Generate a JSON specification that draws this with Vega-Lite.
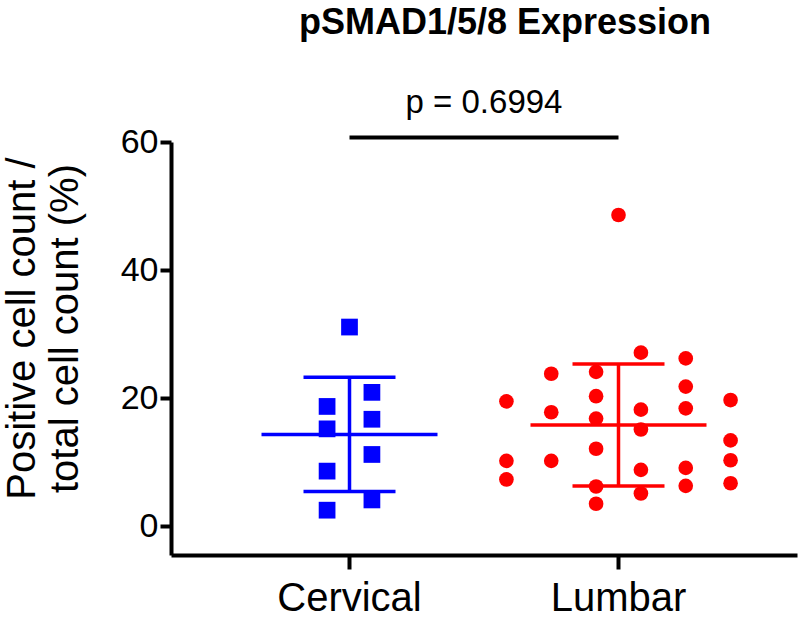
{
  "$schema": "https://vega.github.io/schema/vega-lite/v6.json",
  "width": 626,
  "height": 413,
  "autosize": {"type": "none"},
  "padding": {"left": 171, "top": 142, "right": 3, "bottom": 62},
  "background": "white",
  "title": {
    "text": "pSMAD1/5/8 Expression",
    "fontSize": 36,
    "fontWeight": "bold",
    "font": "Liberation Sans",
    "color": "black",
    "anchor": "middle",
    "dx": 21,
    "offset": 45
  },
  "config": {
    "font": "Liberation Sans",
    "view": {"stroke": null},
    "axis": {
      "grid": false,
      "domainColor": "black",
      "domainWidth": 4,
      "tickColor": "black",
      "tickWidth": 4,
      "labelColor": "black",
      "titleColor": "black",
      "labelFont": "Liberation Sans",
      "titleFont": "Liberation Sans",
      "titleFontWeight": "normal"
    }
  },
  "datasets": {
    "cells": [
      {"group": "Cervical", "col": 0, "value": 31.1},
      {"group": "Cervical", "col": 1, "value": 20.9},
      {"group": "Cervical", "col": -1, "value": 18.7},
      {"group": "Cervical", "col": 1, "value": 16.7},
      {"group": "Cervical", "col": -1, "value": 15.2},
      {"group": "Cervical", "col": 1, "value": 11.2},
      {"group": "Cervical", "col": -1, "value": 8.6},
      {"group": "Cervical", "col": 1, "value": 4.1},
      {"group": "Cervical", "col": -1, "value": 2.5},
      {"group": "Lumbar", "col": 0, "value": 48.6},
      {"group": "Lumbar", "col": 1, "value": 27.1},
      {"group": "Lumbar", "col": 3, "value": 26.2},
      {"group": "Lumbar", "col": -3, "value": 23.8},
      {"group": "Lumbar", "col": -1, "value": 24.1},
      {"group": "Lumbar", "col": 3, "value": 21.8},
      {"group": "Lumbar", "col": -1, "value": 20.3},
      {"group": "Lumbar", "col": -5, "value": 19.5},
      {"group": "Lumbar", "col": 5, "value": 19.7},
      {"group": "Lumbar", "col": -3, "value": 17.8},
      {"group": "Lumbar", "col": 1, "value": 18.2},
      {"group": "Lumbar", "col": 3, "value": 18.4},
      {"group": "Lumbar", "col": -1, "value": 16.8},
      {"group": "Lumbar", "col": 1, "value": 15.1},
      {"group": "Lumbar", "col": 5, "value": 13.4},
      {"group": "Lumbar", "col": -1, "value": 12.1},
      {"group": "Lumbar", "col": -5, "value": 10.2},
      {"group": "Lumbar", "col": -3, "value": 10.2},
      {"group": "Lumbar", "col": 5, "value": 10.3},
      {"group": "Lumbar", "col": 1, "value": 8.8},
      {"group": "Lumbar", "col": 3, "value": 9.1},
      {"group": "Lumbar", "col": -5, "value": 7.3},
      {"group": "Lumbar", "col": 5, "value": 6.7},
      {"group": "Lumbar", "col": -1, "value": 6.2},
      {"group": "Lumbar", "col": 3, "value": 6.3},
      {"group": "Lumbar", "col": 1, "value": 5.1},
      {"group": "Lumbar", "col": -1, "value": 3.5}
    ],
    "stats": [
      {"from": "Cervical", "to": "Lumbar", "y": 60.7, "label": "p = 0.6994", "texty": 64.5}
    ]
  },
  "encoding": {
    "x": {
      "field": "group",
      "type": "nominal",
      "scale": {"domain": ["Cervical", "Lumbar"], "paddingInner": 0, "paddingOuter": 0.1636},
      "axis": {
        "title": null,
        "labelAngle": 0,
        "labelFontSize": 40,
        "tickSize": 14,
        "labelPadding": 9
      }
    },
    "y": {
      "type": "quantitative",
      "scale": {"domain": [-4.5, 60], "nice": false, "zero": false},
      "axis": {
        "values": [0, 20, 40, 60],
        "labelFontSize": 34,
        "tickSize": 11,
        "labelPadding": 2,
        "title": ["Positive cell count /", "total cell count (%)"],
        "titleFontSize": 40,
        "titleLineHeight": 43,
        "titlePadding": 35,
        "titleY": 186
      }
    }
  },
  "layer": [
    {
      "data": {"name": "cells"},
      "mark": {"type": "point", "filled": true, "opacity": 1, "strokeWidth": 0},
      "encoding": {
        "y": {"field": "value", "type": "quantitative"},
        "xOffset": {
          "field": "col",
          "type": "ordinal",
          "scale": {"domain": [-5, -4, -3, -2, -1, 0, 1, 2, 3, 4, 5], "paddingOuter": 2.9, "paddingInner": 0}
        },
        "color": {"field": "group", "type": "nominal", "scale": {"domain": ["Cervical", "Lumbar"], "range": ["#0000FF", "#FF0000"]}, "legend": null},
        "shape": {"field": "group", "type": "nominal", "scale": {"domain": ["Cervical", "Lumbar"], "range": ["square", "circle"]}, "legend": null},
        "size": {"field": "group", "type": "nominal", "scale": {"domain": ["Cervical", "Lumbar"], "range": [280, 215]}, "legend": null}
      }
    },
    {
      "data": {"name": "cells"},
      "mark": {"type": "errorbar", "extent": "stdev", "rule": {"strokeWidth": 3.5, "opacity": 1}, "ticks": {"size": 92, "thickness": 3.5, "opacity": 1}},
      "encoding": {
        "y": {"field": "value", "type": "quantitative"},
        "color": {"field": "group", "type": "nominal", "scale": {"domain": ["Cervical", "Lumbar"], "range": ["#0000FF", "#FF0000"]}, "legend": null}
      }
    },
    {
      "data": {"name": "cells"},
      "mark": {"type": "tick", "size": 176, "thickness": 3.5, "opacity": 1},
      "encoding": {
        "y": {"field": "value", "type": "quantitative", "aggregate": "mean"},
        "color": {"field": "group", "type": "nominal", "scale": {"domain": ["Cervical", "Lumbar"], "range": ["#0000FF", "#FF0000"]}, "legend": null}
      }
    },
    {
      "data": {"name": "stats"},
      "mark": {"type": "rule", "color": "black", "strokeWidth": 4},
      "encoding": {
        "x": {"field": "from", "type": "nominal"},
        "x2": {"field": "to"},
        "y": {"field": "y", "type": "quantitative"}
      }
    },
    {
      "data": {"name": "stats"},
      "mark": {"type": "text", "fontSize": 33, "color": "black", "align": "center", "baseline": "alphabetic"},
      "encoding": {
        "x": {"field": "from", "type": "nominal", "bandPosition": 1},
        "y": {"field": "texty", "type": "quantitative"},
        "text": {"field": "label"}
      }
    }
  ]
}
